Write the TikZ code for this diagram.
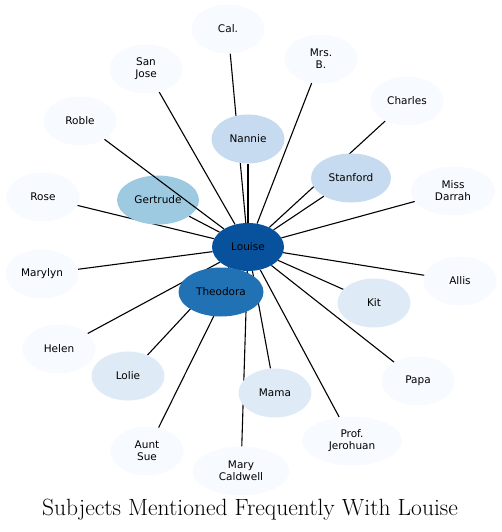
\documentclass[tikz,border=0pt]{standalone}
\usepackage{fontspec}
\newfontfamily\labelfont{DejaVu Sans}
\usetikzlibrary{shapes.geometric,backgrounds}
\definecolor{deepbox}{RGB}{8,81,156}
\definecolor{midbox}{RGB}{33,113,181}
\definecolor{skybox}{RGB}{158,202,225}
\definecolor{lightbox}{RGB}{198,219,239}
\definecolor{palebox}{RGB}{222,235,247}
\definecolor{snowbox}{RGB}{247,251,255}
\tikzset{
  person/.style={
    ellipse,
    fill=snowbox,
    minimum width=73pt,
    minimum height=49pt,
    inner sep=0pt,
    align=center,
    font=\labelfont\fontsize{10.5}{12}\selectfont
  },
  link/.style={line width=1.1pt, black}
}

\begin{document}
\begin{tikzpicture}[x=1pt, y=-1pt]
        \useasboundingbox (0,0) rectangle (502,532);
        \node[person] (cal) at (228,29) {Cal.};
        \node[person] (sanjose) at (146,69) {San\\Jose};
        \node[person] (mrsb) at (321,59) {Mrs.\\B.};
        \node[person] (charles) at (407,101) {Charles};
        \node[person] (roble) at (80,121) {Roble};
        \node[person, fill=lightbox] (nannie) at (248,139) {Nannie};
        \node[person, fill=lightbox, minimum width=80pt] (stanford) at (351,178) {Stanford};
        \node[person, minimum width=84pt] (darrah) at (453,191) {Miss\\Darrah};
        \node[person] (rose) at (43,197) {Rose};
        \node[person, fill=skybox, minimum width=82pt] (gertrude) at (158,200) {Gertrude};
        \node[person, fill=deepbox, minimum width=72pt, minimum height=48pt] (louise) at (248,247) {Louise};
        \node[person] (marylyn) at (42,274) {Marylyn};
        \node[person] (allis) at (460,281) {Allis};
        \node[person, fill=midbox, minimum width=85pt] (theodora) at (221,292) {Theodora};
        \node[person, fill=palebox] (kit) at (374,303) {Kit};
        \node[person] (helen) at (59,349) {Helen};
        \node[person, fill=palebox] (lolie) at (128,376) {Lolie};
        \node[person] (papa) at (418,381) {Papa};
        \node[person, fill=palebox] (mama) at (275,393) {Mama};
        \node[person, minimum width=100pt] (jerohuan) at (352,441) {Prof.\\Jerohuan};
        \node[person] (auntsue) at (147,451) {Aunt\\Sue};
        \node[person, minimum width=97pt] (caldwell) at (241,471) {Mary\\Caldwell};
        \node[font=\fontsize{23.5}{28}\selectfont] (title) at (250,510) {Subjects Mentioned Frequently With Louise};
        % edges behind the ellipses
        \begin{scope}[on background layer]
          \draw[link] (louise) -- (cal);
          \draw[link] (louise) -- (sanjose);
          \draw[link] (louise) -- (mrsb);
          \draw[link] (louise) -- (charles);
          \draw[link] (louise) -- (nannie);
          \draw[link] (louise) -- (stanford);
          \draw[link] (louise) -- (darrah);
          \draw[link] (louise) -- (rose);
          \draw[link] (louise) -- (gertrude);
          \draw[link] (louise) -- (marylyn);
          \draw[link] (louise) -- (allis);
          \draw[link] (louise) -- (theodora);
          \draw[link] (louise) -- (kit);
          \draw[link] (louise) -- (helen);
          \draw[link] (louise) -- (lolie);
          \draw[link] (louise) -- (papa);
          \draw[link] (louise) -- (mama);
          \draw[link] (louise) -- (jerohuan);
          \draw[link] (louise) -- (auntsue);
          \draw[link] (louise) -- (caldwell);
        \end{scope}
        % this one runs over Gertrude
        \draw[link] (louise) -- (roble);
      \end{tikzpicture}
\end{document}
